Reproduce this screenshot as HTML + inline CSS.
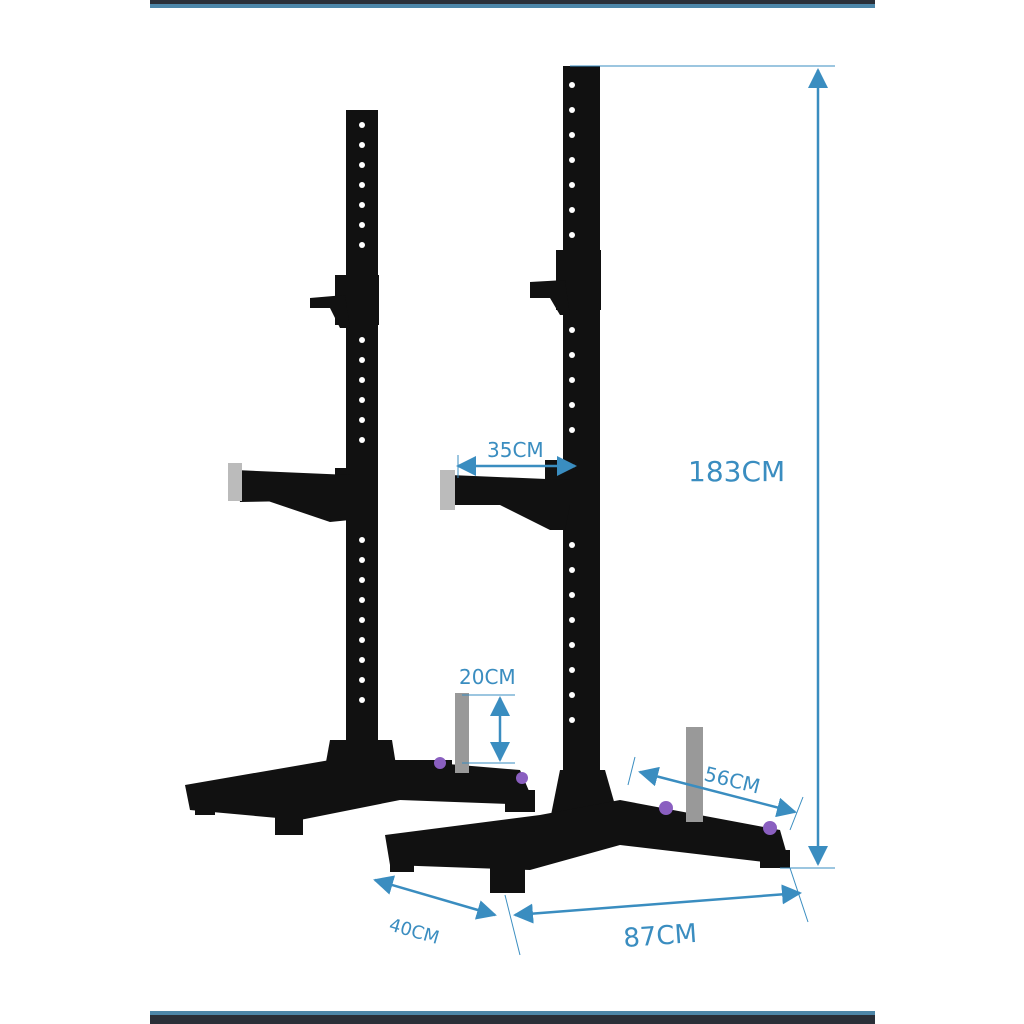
<!DOCTYPE html>
<html><head><meta charset="utf-8"><style>
html,body{margin:0;padding:0;background:#fff;}
svg{display:block}
text{font-family:"DejaVu Sans","Liberation Sans",sans-serif;fill:#3a8dc0}
</style></head><body>
<svg width="1024" height="1024" viewBox="0 0 1024 1024" xmlns="http://www.w3.org/2000/svg">
<defs>
<marker id="a" viewBox="0 0 10 10" refX="9" refY="5" markerWidth="8" markerHeight="8" orient="auto-start-reverse"><path d="M0,0L10,5L0,10z" fill="#3a8dc0"/></marker>
</defs>
<rect x="150" y="0" width="725" height="5" fill="#2a2f38"/>
<rect x="150" y="4" width="725" height="4" fill="#4d86a8"/>
<rect x="150" y="1011" width="725" height="5" fill="#4d86a8"/>
<rect x="150" y="1015" width="725" height="9" fill="#2a2f38"/>

<!-- LEFT RACK -->
<g fill="#111">
<rect x="346" y="110" width="32" height="640"/>
<polygon points="330,740 392,740 400,790 320,795"/>
<polygon points="185,785 330,760 400,760 520,770 535,805 400,800 300,820 190,810"/>
<rect x="195" y="800" width="20" height="15"/><rect x="275" y="810" width="28" height="25"/>
<rect x="392" y="760" width="60" height="20"/><rect x="505" y="790" width="30" height="22"/>
<rect x="335" y="275" width="44" height="50"/>
<polygon points="310,298 345,295 350,328 340,328 330,308 310,308"/>
<rect x="335" y="468" width="42" height="50"/>
<polygon points="235,470 350,475 350,500 240,502"/>
<polygon points="265,500 350,500 350,520 330,522"/>
</g>
<rect x="228" y="463" width="14" height="38" fill="#bbb"/>
<rect x="455" y="693" width="14" height="80" fill="#999"/>
<g fill="#fff">
<circle cx="362" cy="125" r="3"/><circle cx="362" cy="145" r="3"/><circle cx="362" cy="165" r="3"/><circle cx="362" cy="185" r="3"/><circle cx="362" cy="205" r="3"/><circle cx="362" cy="225" r="3"/><circle cx="362" cy="245" r="3"/><circle cx="362" cy="340" r="3"/><circle cx="362" cy="360" r="3"/><circle cx="362" cy="380" r="3"/><circle cx="362" cy="400" r="3"/><circle cx="362" cy="420" r="3"/><circle cx="362" cy="440" r="3"/><circle cx="362" cy="540" r="3"/><circle cx="362" cy="560" r="3"/><circle cx="362" cy="580" r="3"/><circle cx="362" cy="600" r="3"/><circle cx="362" cy="620" r="3"/><circle cx="362" cy="640" r="3"/><circle cx="362" cy="660" r="3"/><circle cx="362" cy="680" r="3"/><circle cx="362" cy="700" r="3"/>
</g>

<!-- RIGHT RACK -->
<g fill="#111">
<rect x="563" y="66" width="37" height="740"/>
<polygon points="560,770 605,770 625,840 545,845"/>
<polygon points="385,835 540,815 620,800 780,830 790,865 620,845 530,870 390,865"/>
<rect x="390" y="860" width="24" height="12"/><rect x="490" y="865" width="35" height="28"/>
<rect x="760" y="850" width="30" height="18"/>
<rect x="556" y="250" width="45" height="60"/>
<polygon points="530,282 565,280 570,315 560,315 550,298 530,298"/>
<rect x="545" y="460" width="40" height="65"/>
<polygon points="450,475 570,480 570,505 455,505"/>
<polygon points="500,505 570,505 565,530 550,530"/>
</g>
<rect x="440" y="470" width="15" height="40" fill="#bbb"/>
<rect x="686" y="727" width="17" height="95" fill="#999"/>
<circle cx="666" cy="808" r="7" fill="#8a5fc0"/><circle cx="770" cy="828" r="7" fill="#8a5fc0"/>
<circle cx="440" cy="763" r="6" fill="#8a5fc0"/><circle cx="522" cy="778" r="6" fill="#8a5fc0"/>
<g fill="#fff">
<circle cx="572" cy="85" r="3"/><circle cx="572" cy="110" r="3"/><circle cx="572" cy="135" r="3"/><circle cx="572" cy="160" r="3"/><circle cx="572" cy="185" r="3"/><circle cx="572" cy="210" r="3"/><circle cx="572" cy="235" r="3"/><circle cx="572" cy="330" r="3"/><circle cx="572" cy="355" r="3"/><circle cx="572" cy="380" r="3"/><circle cx="572" cy="405" r="3"/><circle cx="572" cy="430" r="3"/><circle cx="572" cy="545" r="3"/><circle cx="572" cy="570" r="3"/><circle cx="572" cy="595" r="3"/><circle cx="572" cy="620" r="3"/><circle cx="572" cy="645" r="3"/><circle cx="572" cy="670" r="3"/><circle cx="572" cy="695" r="3"/><circle cx="572" cy="720" r="3"/>
</g>

<!-- DIMENSIONS -->
<g stroke="#3a8dc0" stroke-width="2.5" fill="none">
<line x1="570" y1="66" x2="835" y2="66" stroke-width="1"/>
<line x1="780" y1="868" x2="835" y2="868" stroke-width="1"/>
<line x1="818" y1="70" x2="818" y2="864" marker-start="url(#a)" marker-end="url(#a)"/>
<line x1="458" y1="466" x2="575" y2="466" marker-start="url(#a)" marker-end="url(#a)"/>
<line x1="458" y1="455" x2="458" y2="478" stroke-width="1"/>
<line x1="462" y1="695" x2="515" y2="695" stroke-width="1"/>
<line x1="462" y1="763" x2="515" y2="763" stroke-width="1"/>
<line x1="500" y1="698" x2="500" y2="760" marker-start="url(#a)" marker-end="url(#a)"/>
<line x1="640" y1="772" x2="795" y2="812" marker-start="url(#a)" marker-end="url(#a)"/>
<line x1="635" y1="757" x2="628" y2="785" stroke-width="1"/>
<line x1="803" y1="797" x2="790" y2="830" stroke-width="1"/>
<line x1="375" y1="880" x2="495" y2="915" marker-start="url(#a)" marker-end="url(#a)"/>
<line x1="505" y1="895" x2="520" y2="955" stroke-width="1"/>
<line x1="515" y1="915" x2="800" y2="893" marker-start="url(#a)" marker-end="url(#a)"/>
<line x1="790" y1="868" x2="808" y2="922" stroke-width="1"/>
</g>
<text x="688" y="481" font-size="28">183CM</text>
<text x="487" y="457" font-size="20">35CM</text>
<text x="459" y="684" font-size="20">20CM</text>
<text x="703" y="780" font-size="20" transform="rotate(14 703 780)">56CM</text>
<text x="388" y="930" font-size="18" transform="rotate(16 388 930)">40CM</text>
<text x="624" y="947" font-size="26" transform="rotate(-4 624 947)">87CM</text>
</svg>
</body></html>
